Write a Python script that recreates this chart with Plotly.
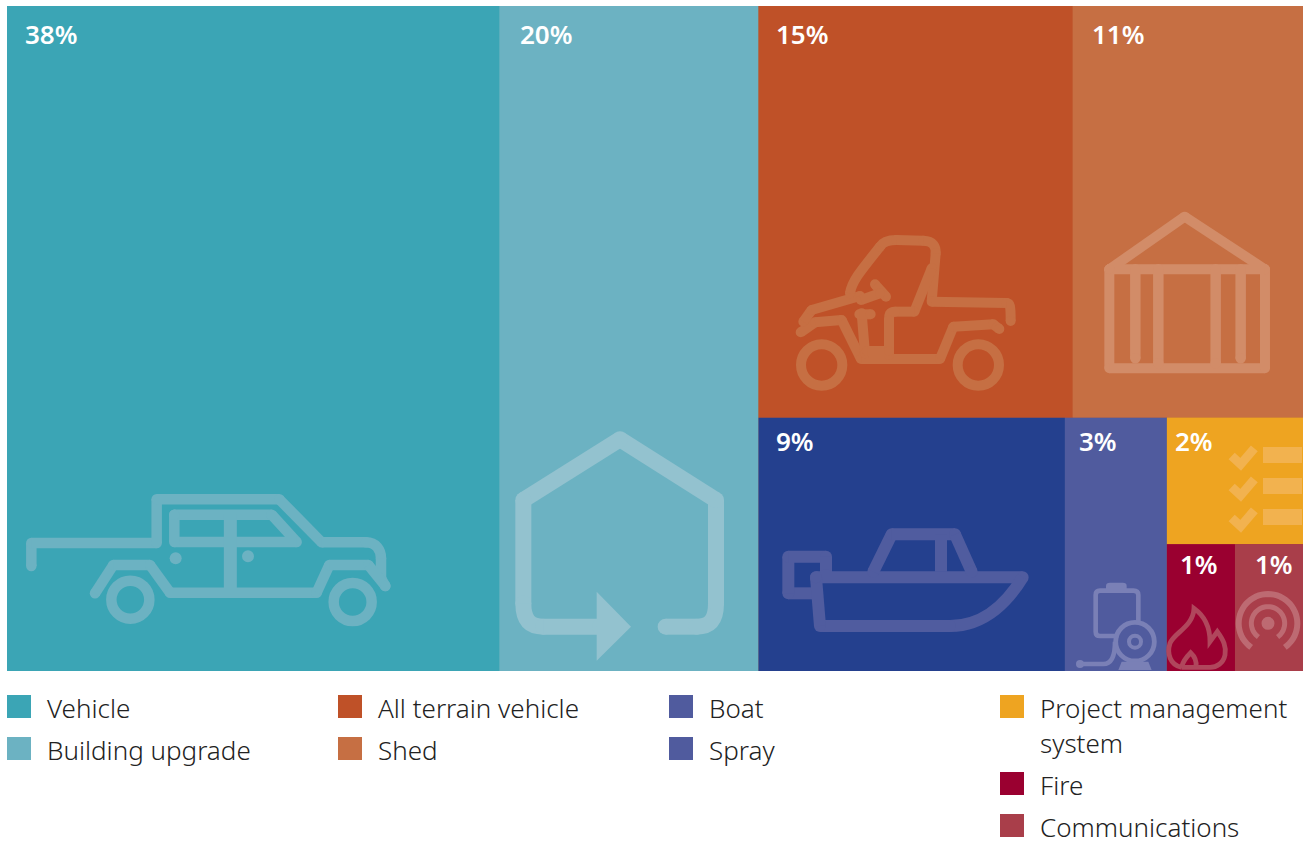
import math
import re
import plotly.graph_objects as go

# ---- data ----
categories = ["Vehicle", "Building upgrade", "All terrain vehicle", "Shed", "Boat",
              "Spray", "Project management<br>system", "Fire", "Communications"]
shares = [38, 20, 15, 11, 9, 3, 2, 1, 1]
tile_colors = ["#3BA5B5", "#6CB2C2", "#BF5128", "#C66F43", "#24408E",
               "#505B9E", "#EEA421", "#9A0030", "#A93E4A"]
legend_colors = ["#3BA5B5", "#6CB2C2", "#BF5128", "#C66F43", "#505B9E",
                 "#505B9E", "#EEA421", "#9A0030", "#A93E4A"]

W, H = 1304, 841
PLOT = dict(x0=7, x1=1303, y0=6, y1=671)


def px(x):
    return x / W


def py(y):
    return 1 - y / H


# ---- hierarchy: nested groups give the column / row arrangement under slice-dice tiling ----
v = dict(zip(categories, shares))
order = {
    "all": ["Vehicle", "Building upgrade", "rest"],
    "rest": ["upper", "lower"],
    "upper": ["All terrain vehicle", "Shed"],
    "lower": ["Boat", "Spray", "small"],
    "small": ["Project management<br>system", "tiny"],
    "tiny": ["Fire", "Communications"],
}
# group fills sit behind the tiles and keep sub-pixel seams from showing white
group_colors = {"all": "#54ACBB", "rest": "#BF5128", "upper": "#C26038",
                "lower": "#3A4E96", "small": "#EEA421", "tiny": "#A21F3C"}
color_of = dict(zip(categories, tile_colors))
color_of.update(group_colors)


def total(n):
    return v[n] if n in v else sum(total(c) for c in order[n])


ids, parents, values, colors = [], [], [], []


def walk(n, parent):
    ids.append(n)
    parents.append(parent)
    values.append(total(n))
    colors.append(color_of[n])
    for c in order.get(n, []):
        walk(c, n)


walk("all", "")

fig = go.Figure(go.Treemap(
    ids=ids,
    labels=ids,
    parents=parents,
    values=values,
    branchvalues="total",
    sort=False,
    textinfo="none",
    hoverinfo="skip",
    pathbar=dict(visible=False),
    tiling=dict(packing="slice-dice", pad=0),
    marker=dict(colors=colors, line=dict(width=0), pad=dict(t=0, l=0, r=0, b=0)),
    domain=dict(x=[px(PLOT["x0"]), px(PLOT["x1"])], y=[py(PLOT["y1"]), py(PLOT["y0"])]),
))

shapes, annotations = [], []


# ---- icon helpers: each glyph is written in local units (1 unit = 1/3 px) ----
def add_dot(cx, cy, r, color):
    shapes.append(dict(type="circle", xref="paper", yref="paper", layer="above",
                       x0=px(cx - r), x1=px(cx + r), y0=py(cy + r), y1=py(cy - r),
                       fillcolor=color, line=dict(width=0)))


def parse_path(org, d):
    ox, oy = org
    tokens = re.findall(r"[MLCQZ]|-?\d+\.?\d*", d)
    cmds = []
    i = 0
    while i < len(tokens):
        t = tokens[i]
        if t in "MLCQZ":
            cmds.append((t, []))
            i += 1
        else:
            cmds[-1][1].append((ox + float(tokens[i]) / 3, oy + float(tokens[i + 1]) / 3))
            i += 2
    return cmds


def coord_text(points):
    return " ".join(f"{px(x):.5f},{py(y):.5f}" for x, y in points)


def path_shape(d, width, color, fill=None):
    shapes.append(dict(type="path", xref="paper", yref="paper", layer="above", path=d,
                       fillcolor=fill if fill else "rgba(0,0,0,0)",
                       line=dict(width=width, color=color) if width else dict(width=0)))


def add_path(org, d, width, color, rounded=True, fill=None):
    cmds = parse_path(org, d)
    if rounded and width:
        # one shape per segment, with a dot on every vertex, gives round joins and caps
        last = cmds[0][1][-1]
        add_dot(last[0], last[1], width / 2, color)
        for t, pts in cmds[1:]:
            path_shape(f"M {coord_text([last])} {t} {coord_text(pts)}", width, color)
            last = pts[-1]
            add_dot(last[0], last[1], width / 2, color)
    else:
        text = " ".join(f"{t} {coord_text(pts)}".strip() for t, pts in cmds)
        path_shape(text, width, color, fill)


def add_ring(org, cx, cy, r, width, color):
    ox, oy = org
    cx, cy, r = ox + cx / 3, oy + cy / 3, r / 3
    shapes.append(dict(type="circle", xref="paper", yref="paper", layer="above",
                       x0=px(cx - r), x1=px(cx + r), y0=py(cy + r), y1=py(cy - r),
                       fillcolor="rgba(0,0,0,0)", line=dict(width=width, color=color)))


def arc_path(cx, cy, r, gap_deg):
    # open circle with its gap centred on the bottom
    pts = []
    for k in range(0, 49):
        a = math.radians(90 + gap_deg + (360 - 2 * gap_deg) * k / 48)
        pts.append((cx + r * math.cos(a), cy + r * math.sin(a)))
    return "M " + " L ".join(f"{x:.1f} {y:.1f}" for x, y in pts)


# vehicle
o, c = (10, 480), "#6CB2C2"
add_path(o, "M 64 258 L 64 189 L 440 189 L 440 58 L 808 58 L 935 187 L 1068 187 "
            "C 1098 187 1113 210 1113 235 L 1113 295 L 1126 318", 10.5, c)
add_path(o, "M 493 104 L 785 104 L 860 186 L 493 186 L 493 104", 10.5, c)
add_path(o, "M 661 104 L 661 340", 13, c, rounded=False)
add_path(o, "M 255 340 L 310 255 L 420 255 L 480 338 L 920 338 L 958 255 L 1075 255 L 1126 318", 10.5, c)
add_dot(o[0] + 497 / 3, o[1] + 235 / 3, 6, c)
add_dot(o[0] + 714 / 3, o[1] + 229 / 3, 6, c)
add_ring(o, 361, 359, 57, 10.5, c)
add_ring(o, 1028, 366, 57, 10.5, c)

# building with upgrade arrow
o, c = (500, 420), "#93C2CF"
add_path(o, "M 497 620 L 590 620 C 630 620 648 600 648 550 L 648 240 L 360 58 L 70 240 L 70 550 "
            "C 70 600 90 620 130 620 L 300 620", 16, c)
add_path(o, "M 290 515 L 393 620 L 290 722 Z", 0, c, fill=c)

# all terrain vehicle
o, c = (780, 225), "#C66F43"
add_ring(o, 125, 420, 62, 10, c)
add_ring(o, 595, 420, 62, 10, c)
add_path(o, "M 62 322 L 105 292 L 185 285 L 243 402 L 480 402 L 520 305 L 640 298 L 658 312", 10, c)
add_path(o, "M 70 290 L 95 255 L 240 213", 10, c)
add_path(o, "M 210 205 C 215 170 240 140 300 65 C 310 48 330 45 350 45 L 430 47 "
            "C 460 48 468 65 467 85 L 455 230 L 680 234 C 690 235 692 240 692 288", 10, c)
add_path(o, "M 455 130 L 403 260 L 345 260 C 328 260 327 270 327 285 L 327 390", 10, c)
add_path(o, "M 285 178 L 318 215", 10, c)
add_path(o, "M 243 225 L 300 205", 10, c)
add_path(o, "M 245 265 L 255 385", 10, c)
add_path(o, "M 238 268 L 272 268", 10, c)
add_path(o, "M 262 378 L 327 378", 10, c)

# shed
o, c = (1090, 200), "#D28C68"
add_path(o, "M 58 208 L 284 50 L 525 208", 10, c)
add_path(o, "M 58 208 L 58 505 L 525 505 L 525 208 L 58 208", 10, c)
add_path(o, "M 136 208 L 136 475", 10.5, c)
add_path(o, "M 205 208 L 205 490", 10.5, c)
add_path(o, "M 377 208 L 377 490", 10.5, c)
add_path(o, "M 452 208 L 452 475", 10.5, c)

# boat
o, c = (770, 515), "#505C9F"
add_path(o, "M 130 235 L 55 235 L 55 125 L 168 125 L 168 180", 12, c)
add_path(o, "M 138 187 L 758 187 C 720 250 650 333 540 333 L 150 333 L 138 187", 12, c)
add_path(o, "M 310 170 L 365 58 L 555 58 L 605 170", 12, c)
add_path(o, "M 513 58 L 513 170", 12, c, rounded=False)

# spray pump
o, c = (1070, 540), "#7A80B6"
add_path(o, "M 205 250 L 205 165 Q 205 152 190 152 L 90 152 Q 77 152 77 165 L 77 275 Q 77 288 90 288 L 145 288",
         4.6, c, rounded=False)
add_path(o, "M 108 150 L 108 138 Q 108 128 120 128 L 158 128 Q 170 128 170 138 L 170 150 Z", 0, c, fill=c)
add_ring(o, 195, 305, 58, 4.8, c)
add_ring(o, 195, 305, 18, 4, c)
add_path(o, "M 135 305 C 135 350 125 372 100 372 L 30 372", 4.6, c, rounded=False)
add_dot(o[0] + 30 / 3, o[1] + 372 / 3, 4, c)
add_path(o, "M 155 365 L 235 365 L 245 390 L 145 390 Z", 0, c, fill=c)

# checklist
o, c = (1070, 420), "#F2B24F"
for dy in (0, 93, 186):
    add_path(o, f"M 485 {108 + dy} L 512 {133 + dy} L 553 {85 + dy}", 9, c, rounded=False)
    add_path(o, f"M 579 {81 + dy} L 696 {81 + dy} L 696 {129 + dy} L 579 {129 + dy} Z", 0, c, fill=c)

# flame
o, c = (1070, 540), "#B0465C"
add_path(o, "M 335 382 C 300 375 290 340 300 310 C 310 280 370 260 372 205 C 400 225 420 260 420 305 "
            "L 442 275 C 460 300 470 320 465 345 C 460 370 440 382 420 382 L 335 382", 4.8, c, rounded=False)
add_path(o, "M 335 380 C 340 360 350 350 362 338 C 375 350 380 365 378 380", 4.8, c, rounded=False)

# radio signal
o, c = (1070, 540), "#BD6A72"
add_path(o, arc_path(594, 250, 88, 35), 6, c, rounded=False)
add_path(o, arc_path(594, 250, 50, 35), 5, c, rounded=False)
add_dot(o[0] + 594 / 3, o[1] + 250 / 3, 6.5, c)

# ---- percentage labels ----
label_anchor = [(25, 34), (520, 34), (776, 34), (1092, 34), (776, 441),
                (1079, 441), (1175, 441), (1180, 564), (1255, 564)]
for share, (lx, ly) in zip(shares, label_anchor):
    annotations.append(dict(text=f"{share}%", xref="paper", yref="paper", x=px(lx), y=py(ly),
                            xanchor="left", yanchor="middle", showarrow=False, xshift=-2,
                            font=dict(family="Noto Sans", size=26, color="white", weight=600)))

# ---- legend ----
legend_slots = [(7, 706), (7, 748), (338, 706), (338, 748), (669, 706),
                (669, 748), (1000, 706), (1000, 783), (1000, 825)]
for name, col, (lx, ly) in zip(categories, legend_colors, legend_slots):
    shapes.append(dict(type="rect", xref="paper", yref="paper", layer="above",
                       x0=px(lx), x1=px(lx + 24), y0=py(ly + 12), y1=py(ly - 11),
                       fillcolor=col, line=dict(width=0)))
    for k, line in enumerate(name.split("<br>")):
        annotations.append(dict(text=line, xref="paper", yref="paper",
                                x=px(lx + 38), y=py(ly + 2 + 35 * k),
                                xanchor="left", yanchor="middle", showarrow=False,
                                font=dict(family="Noto Sans", size=26, color="#222222", weight=300)))

fig.update_layout(width=W, height=H, margin=dict(l=0, r=0, t=0, b=0),
                  paper_bgcolor="white", showlegend=False,
                  shapes=shapes, annotations=annotations)
fig.write_html("out.html", config=dict(displayModeBar=False))
